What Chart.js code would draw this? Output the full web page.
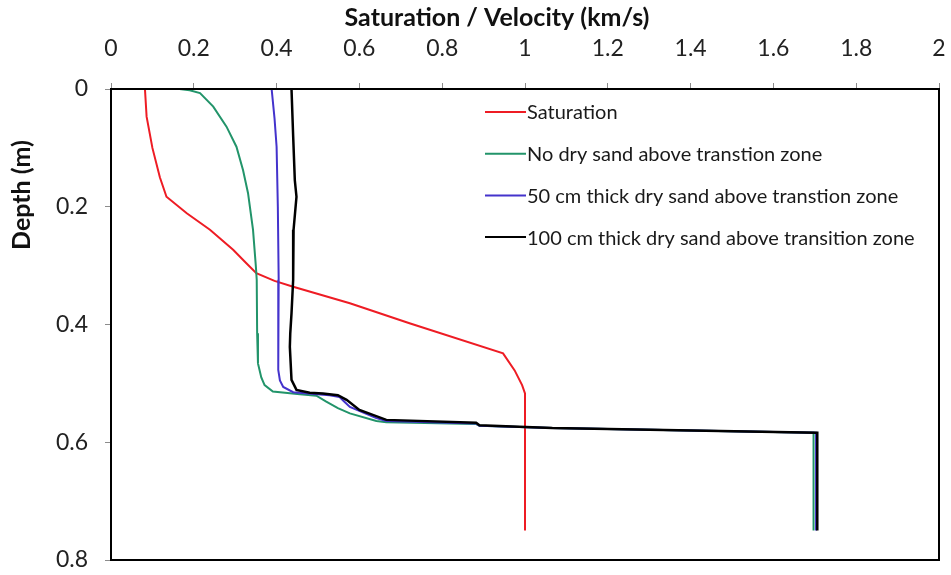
<!DOCTYPE html>
<html>
<head>
<meta charset="utf-8">
<script src="https://cdn.jsdelivr.net/npm/chart.js@4.4.1/dist/chart.umd.min.js"></script>
<style>
  html, body { margin: 0; padding: 0; background: #ffffff; }
  #wrap { width: 951px; height: 575px; }
</style>
</head>
<body>
<div id="wrap"><canvas id="c" width="951" height="575"></canvas></div>
<script>
// Series names
const seriesNames = [
  'Saturation',
  'No dry sand above transtion zone',
  '50 cm thick dry sand above transtion zone',
  '100 cm thick dry sand above transition zone'
];

// Saturation profile (value vs depth)
const satValue = [0.082, 0.086, 0.100, 0.118, 0.134, 0.183, 0.239, 0.295, 0.327, 0.351, 0.395, 0.440, 0.577, 0.721, 0.947, 0.975, 0.993, 1.000, 1.000];
const satDepth = [0.000, 0.047, 0.100, 0.150, 0.183, 0.211, 0.239, 0.273, 0.296, 0.313, 0.326, 0.336, 0.364, 0.398, 0.449, 0.478, 0.503, 0.517, 0.750];

// Velocity, no dry sand above the transition zone
const noDryValue = [0.165, 0.190, 0.215, 0.247, 0.279, 0.303, 0.319, 0.331, 0.343, 0.350, 0.352, 0.353, 0.355, 0.363, 0.371, 0.391, 0.450, 0.496, 0.520, 0.548, 0.577, 0.641, 0.665, 0.882, 0.890, 1.066, 1.697, 1.697];
const noDryDepth = [0.000, 0.002, 0.007, 0.030, 0.064, 0.098, 0.138, 0.177, 0.239, 0.302, 0.324, 0.415, 0.466, 0.490, 0.503, 0.514, 0.518, 0.521, 0.531, 0.542, 0.551, 0.564, 0.566, 0.569, 0.572, 0.576, 0.584, 0.750];

// Velocity, 50 cm of dry sand above the transition zone
const dry50Value = [0.388, 0.395, 0.400, 0.403, 0.405, 0.404, 0.404, 0.408, 0.416, 0.440, 0.490, 0.528, 0.552, 0.565, 0.577, 0.641, 0.665, 0.882, 0.890, 1.066, 1.703, 1.703];
const dry50Depth = [0.000, 0.050, 0.098, 0.200, 0.324, 0.415, 0.477, 0.495, 0.506, 0.515, 0.518, 0.520, 0.523, 0.532, 0.540, 0.559, 0.564, 0.568, 0.572, 0.576, 0.584, 0.750];

// Velocity, 100 cm of dry sand above the transition zone
const dry100Value = [0.436, 0.440, 0.444, 0.448, 0.441, 0.440, 0.436, 0.433, 0.432, 0.436, 0.448, 0.480, 0.512, 0.548, 0.569, 0.600, 0.665, 0.882, 0.890, 1.066, 1.706, 1.706];
const dry100Depth = [0.000, 0.080, 0.155, 0.183, 0.239, 0.324, 0.381, 0.415, 0.438, 0.494, 0.511, 0.516, 0.517, 0.520, 0.528, 0.545, 0.562, 0.567, 0.571, 0.576, 0.584, 0.750];

// Axis ticks and titles
const xTickLabels = ['0', '0.2', '0.4', '0.6', '0.8', '1', '1.2', '1.4', '1.6', '1.8', '2'];
const yTickLabels = ['0', '0.2', '0.4', '0.6', '0.8'];
const tickStep = 0.2;
const xTitle = 'Saturation / Velocity (km/s)';
const yTitle = 'Depth (m)';

const seriesColors = ['#ee1c24', '#22946a', '#4433cc', '#000000'];

function toPoints(values, depths) {
  return values.map((v, i) => ({ x: v, y: depths[i] }));
}

const seriesData = [
  toPoints(satValue, satDepth),
  toPoints(noDryValue, noDryDepth),
  toPoints(dry50Value, dry50Depth),
  toPoints(dry100Value, dry100Depth)
];

const FONT = 'Lato, "Open Sans", "DejaVu Sans", sans-serif';

// Frame around the plotting area
const framePlugin = {
  id: 'frame',
  afterDatasetsDraw(chart) {
    const a = chart.chartArea;
    const ctx = chart.ctx;
    ctx.save();
    ctx.strokeStyle = '#000';
    ctx.lineWidth = 2;
    ctx.strokeRect(a.left, a.top, a.right - a.left, a.bottom - a.top);
    ctx.restore();
  }
};

// Axis titles
const titlesPlugin = {
  id: 'axisTitles',
  afterDraw(chart) {
    const a = chart.chartArea;
    const ctx = chart.ctx;
    ctx.save();
    ctx.fillStyle = '#111';
    ctx.font = 'bold 25px ' + FONT;
    ctx.textAlign = 'center';
    ctx.textBaseline = 'middle';
    ctx.fillText(xTitle, a.left + 386, 18);
    ctx.translate(22, 195);
    ctx.rotate(-Math.PI / 2);
    ctx.fillText(yTitle, 0, 0);
    ctx.restore();
  }
};

// Legend drawn inside the plotting area, top right
const legendPlugin = {
  id: 'insideLegend',
  afterDraw(chart) {
    const a = chart.chartArea;
    const ctx = chart.ctx;
    ctx.save();
    ctx.font = '20px ' + FONT;
    ctx.textAlign = 'left';
    ctx.textBaseline = 'middle';
    chart.data.datasets.forEach((ds, i) => {
      const y = a.top + 23 + i * 41.7;
      const x0 = a.right - 454;
      const x1 = a.right - 413;
      ctx.strokeStyle = ds.borderColor;
      ctx.lineWidth = 2;
      ctx.beginPath();
      ctx.moveTo(x0, y);
      ctx.lineTo(x1, y);
      ctx.stroke();
      ctx.fillStyle = '#1a1a1a';
      ctx.fillText(ds.label, x1 + 1, y + 1);
    });
    ctx.restore();
  }
};

new Chart(document.getElementById('c'), {
  type: 'scatter',
  data: {
    datasets: seriesNames.map((name, i) => ({
      label: name,
      data: seriesData[i],
      showLine: true,
      borderColor: seriesColors[i],
      backgroundColor: seriesColors[i],
      borderWidth: i === 3 ? 2.5 : 2,
      pointRadius: 0,
      pointHoverRadius: 0,
      tension: 0,
      fill: false,
      order: 3 - i
    }))
  },
  options: {
    responsive: false,
    animation: false,
    devicePixelRatio: 1,
    layout: { padding: { top: 0, left: 0, right: 12, bottom: 15 } },
    plugins: {
      legend: { display: false },
      tooltip: { enabled: false },
      title: { display: false }
    },
    scales: {
      x: {
        type: 'linear',
        position: 'top',
        min: 0,
        max: 2,
        afterFit(scale) {
          scale.height = 89;
          scale.paddingLeft = 0;
          scale.paddingRight = 0;
        },
        ticks: {
          stepSize: tickStep,
          padding: 21,
          color: '#222',
          font: { family: FONT, size: 23 },
          callback: (v) => xTickLabels[Math.round(v / tickStep)]
        },
        grid: { drawOnChartArea: false, drawTicks: true, tickLength: 6, color: '#8c8c8c' },
        border: { display: false },
        title: { display: false }
      },
      y: {
        type: 'linear',
        reverse: true,
        min: 0,
        max: 0.8,
        afterFit(scale) {
          scale.width = 111;
          scale.paddingTop = 0;
          scale.paddingBottom = 0;
        },
        ticks: {
          stepSize: tickStep,
          padding: 17,
          color: '#222',
          font: { family: FONT, size: 23 },
          callback: (v) => yTickLabels[Math.round(v / tickStep)]
        },
        grid: { drawOnChartArea: false, drawTicks: true, tickLength: 6, color: '#8c8c8c' },
        border: { display: false },
        title: { display: false }
      }
    }
  },
  plugins: [framePlugin, titlesPlugin, legendPlugin]
});
</script>
</body>
</html>
